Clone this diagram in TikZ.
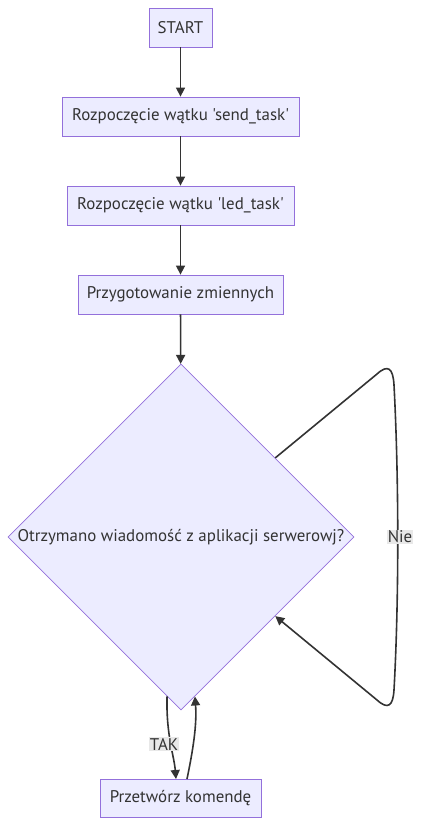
\documentclass[tikz,border=0pt]{standalone}
\usepackage{fontspec}
\setmainfont{PT Sans}[Ligatures=TeXOff]
\usetikzlibrary{shapes.geometric,arrows.meta}
\definecolor{nodefill}{HTML}{ECECFF}
\definecolor{nodeline}{HTML}{9370DB}
\definecolor{edgecol}{HTML}{333333}
\definecolor{lblbg}{HTML}{E8E8E8}
\definecolor{txt}{HTML}{333333}
\begin{document}
\begin{tikzpicture}[x=1pt,y=-1pt,
  box/.style={draw=nodeline,fill=nodefill,line width=0.8pt,inner sep=0pt,minimum height=39pt,text=txt,font=\fontsize{16.9}{19}\selectfont},
  dec/.style={draw=nodeline,fill=nodefill,line width=0.8pt,shape=diamond,inner sep=0pt,minimum width=346pt,minimum height=346pt,text=txt,font=\fontsize{16.9}{19}\selectfont},
  edge/.style={draw=edgecol,line width=1.6pt,-{Triangle[length=9pt,width=9pt]}},
  lbl/.style={fill=lblbg,inner sep=1pt,text=txt,font=\fontsize{16.9}{19}\selectfont}]
\useasboundingbox (0,0) rectangle (420,826);
\node[box,minimum width=63pt] (start) at (180.5,27.5) {START};
\node[box,minimum width=237pt] (send) at (180.5,116.5) {Rozpoczęcie wątku 'send\_task'};
\node[box,minimum width=227pt] (led) at (180.5,205.5) {Rozpoczęcie wątku 'led\_task'};
\node[box,minimum width=205pt] (prep) at (180.5,294.5) {Przygotowanie zmiennych};
\node[dec] (dec) at (181,537) {Otrzymano wiadomość z aplikacji serwerowj?};
\node[box,minimum width=161pt,minimum height=38pt] (proc) at (180.5,798) {Przetwórz komendę};
\draw[edge] (start) -- (send);
\draw[edge] (send) -- (led);
\draw[edge] (led) -- (prep);
\draw[edge] (prep) -- (dec);
\coordinate (tak) at (176,779);
\coordinate (back) at (187,779);
\draw[edge] (dec.265) .. controls (166,735) and (174,755) .. (tak);
\draw[edge] (back) .. controls (193,750) and (197,725) .. (dec.-85);
\draw[edge] (dec.40.4) -- (377,374) .. controls (388,364) and (393,368) .. (394,385)
  .. controls (399,480) and (399,600) .. (394,690)
  .. controls (393,706) and (388,710) .. (377,700) -- (dec.-40.4);
\node[lbl] (taklbl) at (164,744) {TAK};
\node[lbl] (nielbl) at (400,537) {Nie};
\end{tikzpicture}
\end{document}
